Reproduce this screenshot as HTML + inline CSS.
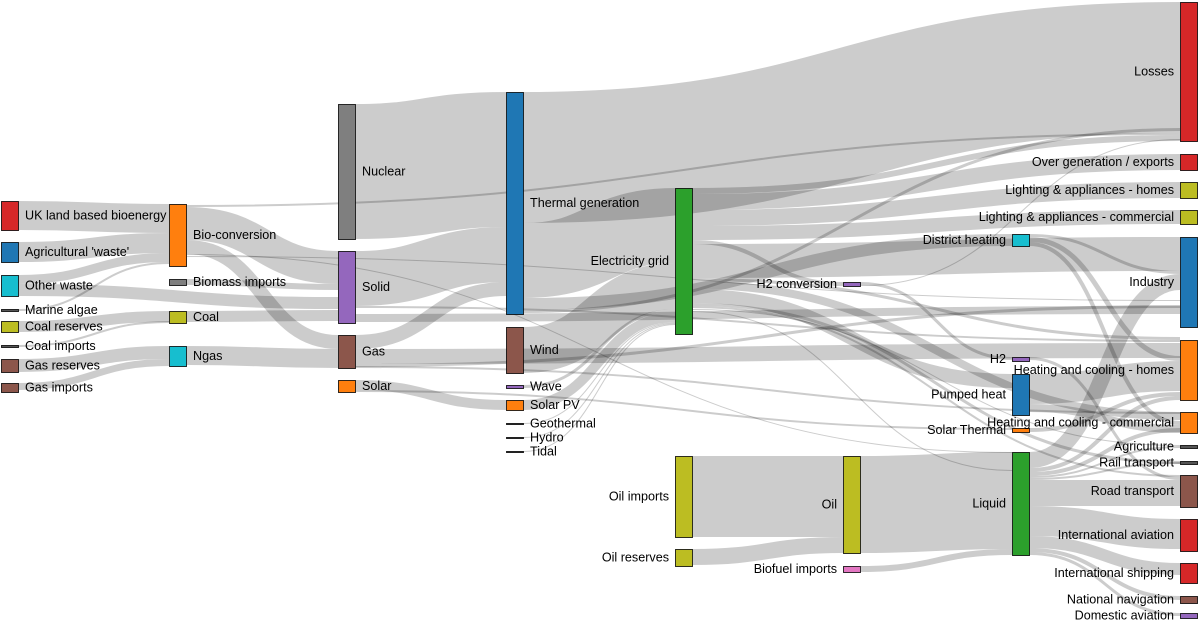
<!DOCTYPE html>
<html><head><meta charset="utf-8"><style>
html,body{margin:0;padding:0;background:#fff;}
svg{display:block;font-family:"Liberation Sans",Arial,sans-serif;font-size:12.6px;}
rect{stroke:#000;stroke-width:1;stroke-opacity:.8}
.l path{fill:none;stroke:#000;stroke-opacity:.2}
</style></head><body>
<svg id="s" width="1200" height="625" viewBox="0 0 1200 625">
<g class="l" id="links"></g>
<g id="nodes"></g>
</svg>
<script>
var NW=18;
var N={
ukb:[1,201,230,'#d62728',"UK land based bioenergy"],
agr:[1,242,262,'#1f77b4',"Agricultural 'waste'"],
oth:[1,275,296,'#17becf',"Other waste"],
mar:[1,309,311,'#555',"Marine algae"],
cre:[1,321,332,'#bcbd22',"Coal reserves"],
cim:[1,345,347,'#555',"Coal imports"],
gre:[1,359,372,'#8c564b',"Gas reserves"],
gim:[1,383,392,'#8c564b',"Gas imports"],
bio:[169,204,266,'#ff7f0e',"Bio-conversion"],
bmi:[169,279,285,'#7f7f7f',"Biomass imports"],
coa:[169,311,323,'#bcbd22',"Coal"],
nga:[169,346,366,'#17becf',"Ngas"],
nuc:[338,104,239,'#7f7f7f',"Nuclear"],
sol:[338,251,323,'#9467bd',"Solid"],
gas:[338,335,368,'#8c564b',"Gas"],
sor:[338,380,392,'#ff7f0e',"Solar"],
the:[506,92,314,'#1f77b4',"Thermal generation"],
win:[506,327,373,'#8c564b',"Wind"],
wav:[506,385,388,'#9467bd',"Wave"],
spv:[506,400,410,'#ff7f0e',"Solar PV"],
geo:[506,423,424,'#555',"Geothermal"],
hyd:[506,437,438,'#555',"Hydro"],
tid:[506,451,452,'#555',"Tidal"],
gri:[675,188,334,'#2ca02c',"Electricity grid"],
oim:[675,456,537,'#bcbd22',"Oil imports"],
ore:[675,549,566,'#bcbd22',"Oil reserves"],
h2c:[843,282,286,'#9467bd',"H2 conversion"],
oil:[843,456,553,'#bcbd22',"Oil"],
bfi:[843,566,572,'#e377c2',"Biofuel imports"],
dis:[1012,234,246,'#17becf',"District heating"],
h2:[1012,357,361,'#9467bd',"H2"],
pum:[1012,374,415,'#1f77b4',"Pumped heat"],
sth:[1012,428,432,'#ff7f0e',"Solar Thermal"],
liq:[1012,452,555,'#2ca02c',"Liquid"],
los:[1180,2,141,'#d62728',"Losses"],
ovg:[1180,154,170,'#d62728',"Over generation / exports"],
lah:[1180,182,198,'#bcbd22',"Lighting & appliances - homes"],
lac:[1180,210,224,'#bcbd22',"Lighting & appliances - commercial"],
ind:[1180,237,327,'#1f77b4',"Industry"],
hch:[1180,340,400,'#ff7f0e',"Heating and cooling - homes"],
hcc:[1180,412,433,'#ff7f0e',"Heating and cooling - commercial"],
agc:[1180,445,448,'#555',"Agriculture"],
rai:[1180,461,464,'#555',"Rail transport"],
roa:[1180,475,507,'#8c564b',"Road transport"],
iav:[1180,519,551,'#d62728',"International aviation"],
ish:[1180,563,583,'#d62728',"International shipping"],
nav:[1180,596,603,'#8c564b',"National navigation"],
dav:[1180,613,618,'#9467bd',"Domestic aviation"]
};
var L=[
['ukb',201,'bio',204,29],['agr',242,'bio',233,20],['oth',275,'bio',253,9],['mar',309,'bio',262,2],
['oth',284,'sol',297,12],['cre',321,'coa',311,11],['cim',345,'coa',321,2],
['gre',359,'nga',346,13],['gim',383,'nga',359,7],
['bio',205,'los',133,2],['bio',207,'sol',251,33],['bio',240,'gas',335,14],['bio',254,'liq',452,1],['bio',256,'ind',300,1],
['bmi',279,'sol',284,6],['coa',311,'sol',310,11],['nga',346,'gas',349,19],
['nuc',104,'the',92,135],
['sol',251,'the',227,55],['sol',306,'hch',340,2],['sol',314,'ind',306,8],
['gas',335,'the',282,14],['gas',349,'hch',343,15],['gas',364,'ind',305,3],['gas',366,'hcc',412,2],
['sor',380,'spv',400,10],['sor',390,'sth',428,2],
['the',92,'los',2,131],['the',223,'gri',188,75],['the',298,'dis',234,12],['the',310,'los',128,3],
['win',327,'gri',263,46],['wav',385,'gri',309,3],['spv',400,'gri',312,10],
['geo',423,'gri',322,1],['hyd',437,'gri',323,1],['tid',451,'gri',324,1],
['gri',188,'los',135,6],['gri',194,'ovg',154,16],['gri',210,'lah',182,16],['gri',226,'lac',210,14],
['gri',240,'h2c',282,4],['gri',244,'ind',237,34],['gri',278,'hch',337,3],['gri',281,'hcc',412,8],
['gri',289,'pum',374,14],['gri',303,'rai',461,3],['gri',306,'roa',475,2],['gri',309,'agc',445,1],['gri',311,'liq',470,1],
['h2c',282,'h2',357,3],['h2c',285,'los',139,1],
['oim',456,'oil',456,81],['ore',549,'oil',537,16],
['oil',456,'liq',452,97],['bfi',566,'liq',549,6],
['dis',234,'ind',271,3],['dis',237,'hch',356,5],['dis',242,'hcc',421,4],
['h2',357,'roa',477,3],
['pum',374,'hch',361,30],['pum',404,'hcc',425,8],
['sth',428,'hch',392,4],
['liq',452,'ind',274,16],['liq',468,'hch',396,4],['liq',472,'hcc',428,4],['liq',476,'agc',446,2],['liq',478,'rai',462,2],
['liq',480,'roa',480,26],['liq',506,'iav',519,30],['liq',536,'ish',563,12],['liq',548,'nav',596,4],['liq',552,'dav',613,3]
];
var ns='http://www.w3.org/2000/svg',lg=document.getElementById('links'),ng=document.getElementById('nodes');
L.forEach(function(l){
 var s=N[l[0]],t=N[l[2]],w=l[4];
 var x0=s[0]+NW,x1=t[0],y0=l[1]+w/2,y1=l[3]+w/2,xm=(x0+x1)/2;
 var p=document.createElementNS(ns,'path');
 p.setAttribute('d','M'+x0+','+y0+'C'+xm+','+y0+' '+xm+','+y1+' '+x1+','+y1);
 p.setAttribute('stroke-width',Math.max(1,w));
 lg.appendChild(p);
});
for(var k in N){var n=N[k];
 var r=document.createElementNS(ns,'rect');
 var h=Math.max(1,n[2]-n[1]);
 r.setAttribute('x',n[0]+.5);r.setAttribute('y',n[1]+.5);r.setAttribute('width',NW-1);r.setAttribute('height',h);
 r.setAttribute('fill',n[3]);ng.appendChild(r);
 var t=document.createElementNS(ns,'text');
 var right=n[0]<600;
 t.setAttribute('x',right?n[0]+NW+6:n[0]-6);
 t.setAttribute('y',(n[1]+n[2])/2+4);
 t.setAttribute('text-anchor',right?'start':'end');
 t.textContent=n[4];ng.appendChild(t);
}
</script>
</body></html>
